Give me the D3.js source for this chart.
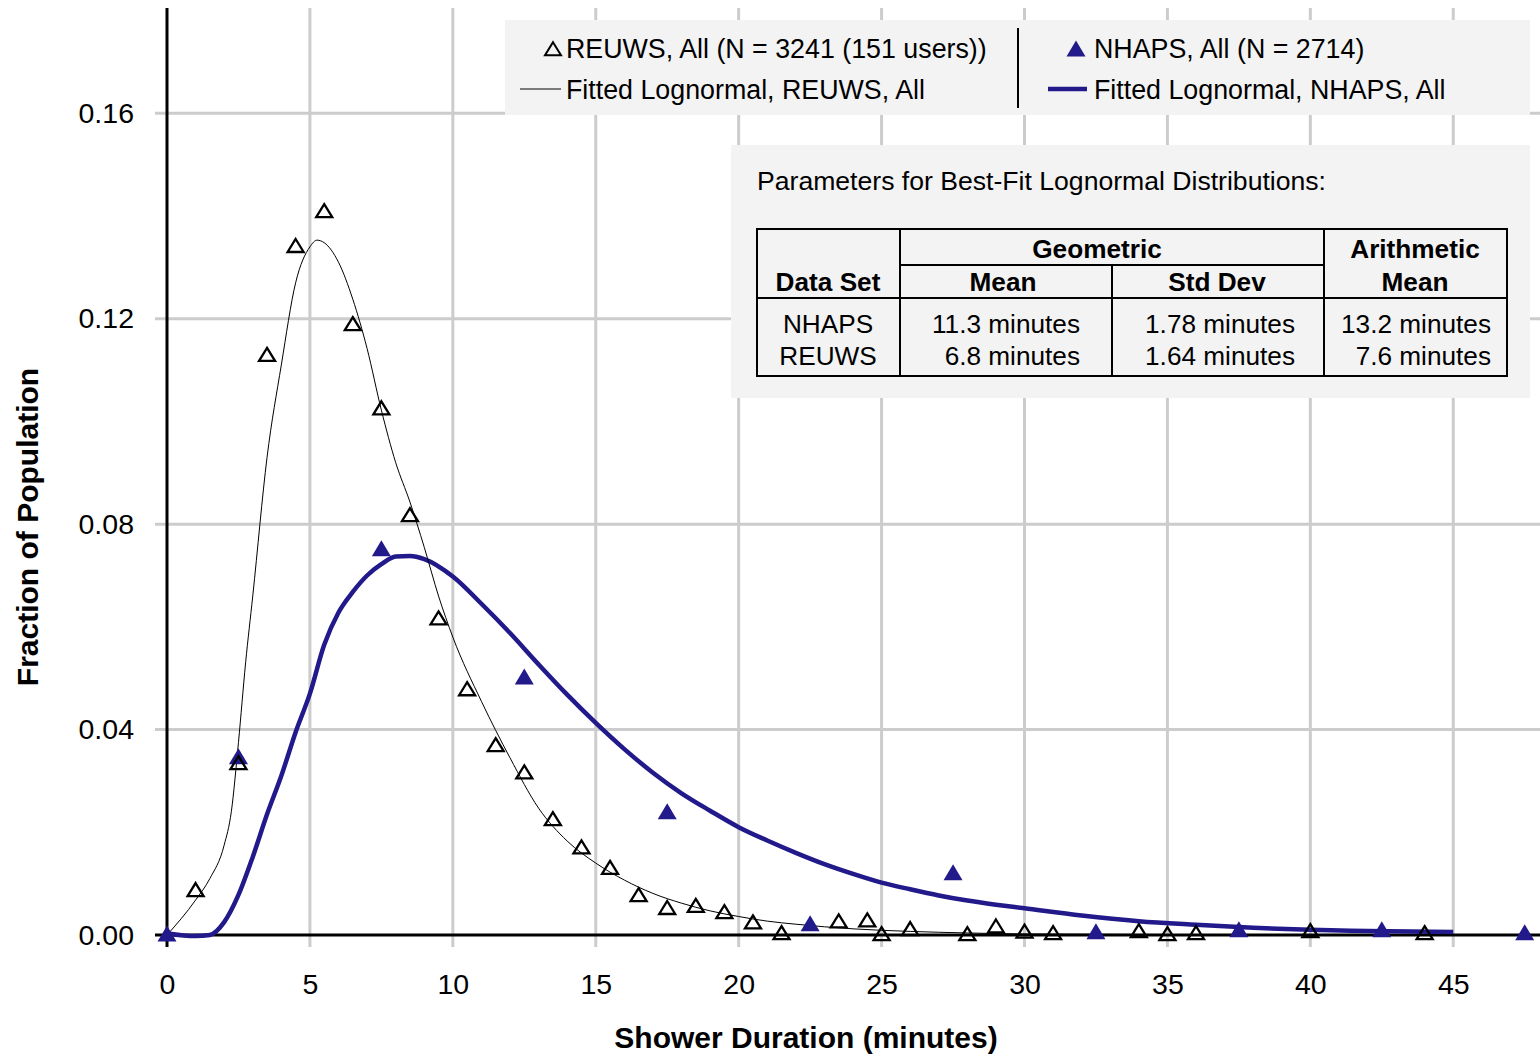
<!DOCTYPE html>
<html><head><meta charset="utf-8">
<script src="https://cdn.jsdelivr.net/npm/d3@7"></script>
<style>
html,body{margin:0;padding:0;background:#fff;}
svg{display:block;font-family:"Liberation Sans",Arial,sans-serif;}
</style></head>
<body>
<svg id="chart" width="1540" height="1057"></svg>
<script>
// ---- data ----
const reuwsX = [1,2.5,3.5,4.5,5.5,6.5,7.5,8.5,9.5,10.5,11.5,12.5,13.5,14.5,15.5,16.5,17.5,18.5,19.5,20.5,21.5,23.5,24.5,25,26,28,29,30,31,34,35,36,40,44];
const reuwsY = [0.0086,0.0333,0.1128,0.1340,0.1408,0.1188,0.1024,0.0816,0.0615,0.0477,0.0368,0.0315,0.0224,0.0169,0.0129,0.0076,0.0051,0.0055,0.0043,0.0023,0.0002,0.0025,0.0027,0.0,0.0010,0.0,0.0015,0.0005,0.0002,0.0006,0.0,0.0002,0.0006,0.0002];
const nhapsX = [0,2.5,7.5,12.5,17.5,22.5,27.5,32.5,37.5,42.5,47.5];
const nhapsY = [0,0.0345,0.0750,0.0500,0.0238,0.0020,0.0119,0.0004,0.0008,0.0008,0.0002];
const fitReuwsX = [0,1,1.5,2,2.25,2.5,2.75,3,3.5,4,4.5,5,5.25,5.5,6,6.5,7,7.5,8,8.5,9,9.5,10,11,12,13,14,15,16,17,18,19,20,21,22,23,24,26,28,30,35,40,45];
const fitReuwsY = [0,0.0068,0.0110,0.0175,0.0240,0.0375,0.0530,0.0660,0.0930,0.1110,0.1270,0.1340,0.1353,0.1348,0.1310,0.1238,0.1142,0.1022,0.0920,0.0843,0.0755,0.0660,0.0580,0.0455,0.0345,0.0247,0.0183,0.0140,0.0107,0.0081,0.0062,0.0047,0.0036,0.0027,0.0021,0.0016,0.0012,0.0007,0.0004,0.0002,0.0001,0.0,0.0];
const fitNhapsX = [0,1,1.5,2,2.5,3,3.5,4,4.5,5,5.5,6,6.5,7,7.5,8,8.5,9,10,11,12,13,14,15,16,17,18,19,20,21,22,23,24,25,26,27,28,29,30,32,34,36,38,40,42,45];
const fitNhapsY = [0.0003,-0.0002,0.0,0.0025,0.0078,0.0152,0.0235,0.0310,0.0395,0.0470,0.0565,0.0628,0.0668,0.0700,0.0722,0.0737,0.0738,0.0732,0.0698,0.0645,0.0588,0.0527,0.0468,0.0413,0.0362,0.0316,0.0276,0.0242,0.0210,0.0184,0.0160,0.0138,0.0119,0.0102,0.0089,0.0077,0.0067,0.0059,0.0052,0.0038,0.0027,0.0020,0.0014,0.0010,0.0008,0.0006];
const xTicks = [0,5,10,15,20,25,30,35,40,45];
const yTicks = [0,0.04,0.08,0.12,0.16];
const legendLabels = ["REUWS, All (N = 3241 (151 users))","Fitted Lognormal, REUWS, All","NHAPS, All (N = 2714)","Fitted Lognormal, NHAPS, All"];
const tableTitle = "Parameters for Best-Fit Lognormal Distributions:";
const tableRows = [["NHAPS","11.3 minutes","1.78 minutes","13.2 minutes"],["REUWS","6.8 minutes","1.64 minutes","7.6 minutes"]];

// ---- layout ----
const NAVY = "#22198a";
const svg = d3.select("#chart");
const x = d3.scaleLinear().domain([0,48]).range([167,1539]);
const y = d3.scaleLinear().domain([0,0.1805]).range([935,8]);

// gridlines
svg.append("g").selectAll("line").data(xTicks.filter(d=>d>0)).join("line")
  .attr("x1",d=>x(d)).attr("x2",d=>x(d)).attr("y1",8).attr("y2",947)
  .attr("stroke","#cccccc").attr("stroke-width",3);
svg.append("g").selectAll("line").data(yTicks.filter(d=>d>0)).join("line")
  .attr("x1",155).attr("x2",1540).attr("y1",d=>y(d)).attr("y2",d=>y(d))
  .attr("stroke","#cccccc").attr("stroke-width",3);

// axes labels via d3 axes
const xAxis = svg.append("g").attr("transform","translate(0,935)")
  .call(d3.axisBottom(x).tickValues(xTicks).tickFormat(d3.format("d")).tickSize(0).tickPadding(39));
xAxis.select(".domain").remove();
xAxis.selectAll("text").attr("font-size",28.5).attr("fill","#000").attr("font-family","Liberation Sans, Arial, sans-serif");
const yAxis = svg.append("g").attr("transform","translate(167,0)")
  .call(d3.axisLeft(y).tickValues(yTicks).tickFormat(d3.format(".2f")).tickSize(0).tickPadding(33));
yAxis.select(".domain").remove();
yAxis.selectAll("text").attr("font-size",28.5).attr("fill","#000").attr("font-family","Liberation Sans, Arial, sans-serif");

// axis lines
svg.append("line").attr("x1",167).attr("x2",167).attr("y1",8).attr("y2",947).attr("stroke","#000").attr("stroke-width",3);
svg.append("line").attr("x1",155).attr("x2",1540).attr("y1",935).attr("y2",935).attr("stroke","#000").attr("stroke-width",3);

// axis titles
svg.append("text").attr("x",806).attr("y",1048).attr("text-anchor","middle")
  .attr("font-size",30).attr("font-weight","bold").text("Shower Duration (minutes)");
svg.append("text").attr("transform","translate(38,527) rotate(-90)").attr("text-anchor","middle")
  .attr("font-size",30).attr("font-weight","bold").text("Fraction of Population");

// curves
const line = d3.line().x(d=>x(d[0])).y(d=>y(d[1])).curve(d3.curveMonotoneX);
svg.append("path").datum(d3.zip(fitNhapsX,fitNhapsY)).attr("d",line)
  .attr("fill","none").attr("stroke",NAVY).attr("stroke-width",4.5).attr("stroke-linejoin","round");
svg.append("path").datum(d3.zip(fitReuwsX,fitReuwsY)).attr("d",line)
  .attr("fill","none").attr("stroke","#000").attr("stroke-width",1);

// markers
function tri(w,h){return `M0,${-h*0.6}L${w/2},${h*0.4}L${-w/2},${h*0.4}Z`;}
svg.append("g").selectAll("path").data(d3.zip(nhapsX,nhapsY)).join("path")
  .attr("transform",d=>`translate(${x(d[0])},${y(d[1])})`).attr("d",tri(19,16)).attr("fill",NAVY);
svg.append("g").selectAll("path").data(d3.zip(reuwsX,reuwsY)).join("path")
  .attr("transform",d=>`translate(${x(d[0])},${y(d[1])})`).attr("d",tri(16,13))
  .attr("fill","none").attr("stroke","#000").attr("stroke-width",2.3).attr("stroke-linejoin","miter");

// legend
const lg = svg.append("g");
lg.append("rect").attr("x",505).attr("y",20).attr("width",1025).attr("height",95).attr("fill","#f3f3f3");
lg.append("line").attr("x1",1018).attr("x2",1018).attr("y1",28).attr("y2",108).attr("stroke","#000").attr("stroke-width",2);
lg.append("path").attr("transform","translate(553,50)").attr("d",tri(16,13)).attr("fill","none").attr("stroke","#000").attr("stroke-width",2);
lg.append("line").attr("x1",520).attr("x2",561).attr("y1",89).attr("y2",89).attr("stroke","#000").attr("stroke-width",1);
lg.append("path").attr("transform","translate(1076,50)").attr("d",tri(19,16)).attr("fill",NAVY);
lg.append("line").attr("x1",1048).attr("x2",1087).attr("y1",89).attr("y2",89).attr("stroke",NAVY).attr("stroke-width",4.5);
const lpos = [[566,58],[566,99],[1094,58],[1094,99]];
lg.selectAll("text").data(legendLabels).join("text")
  .attr("x",(d,i)=>lpos[i][0]).attr("y",(d,i)=>lpos[i][1]).attr("font-size",26.8).text(d=>d);

// parameters box
const tb = svg.append("g");
tb.append("rect").attr("x",731).attr("y",145).attr("width",799).attr("height",253).attr("fill","#f3f3f3");
tb.append("text").attr("x",757).attr("y",190).attr("font-size",26.6).text(tableTitle);
const ln = (x1,y1,x2,y2)=>tb.append("line").attr("x1",x1).attr("y1",y1).attr("x2",x2).attr("y2",y2).attr("stroke","#000").attr("stroke-width",2);
ln(757,229,1507,229); ln(757,376,1507,376); ln(757,298,1507,298); ln(900,265,1324,265);
[757,900,1324,1507].forEach(c=>ln(c,228,c,377));
ln(1112,265,1112,377);
const hdr = [["Geometric",1097,258],["Arithmetic",1415,258],["Data Set",828,291],["Mean",1003,291],["Std Dev",1217,291],["Mean",1415,291]];
tb.selectAll("text.h").data(hdr).join("text").attr("class","h")
  .attr("x",d=>d[1]).attr("y",d=>d[2]).attr("text-anchor","middle").attr("font-size",26.2).attr("font-weight","bold").text(d=>d[0]);
const cellX = [828,1080,1295,1491];
const cellAnchor = ["middle","end","end","end"];
tableRows.forEach((r,ri)=>{
  r.forEach((c,ci)=>{
    tb.append("text").attr("x",cellX[ci]).attr("y",333+ri*32).attr("text-anchor",cellAnchor[ci]).attr("font-size",26.2).text(c);
  });
});
</script>
</body></html>
